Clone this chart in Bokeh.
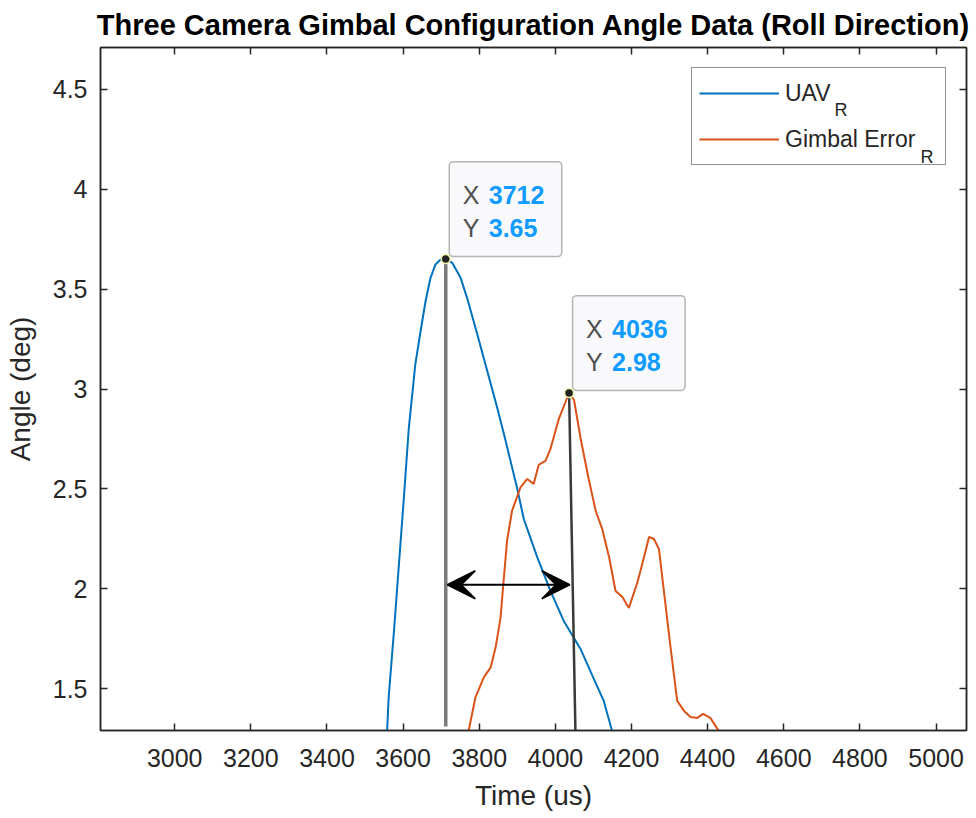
from bokeh.plotting import figure
from bokeh.models import (Range1d, LinearAxis, FixedTicker, Label, Arrow, VeeHead,
                          Legend, LegendItem, CustomJSTickFormatter)
from bokeh.embed import file_html
from bokeh.resources import INLINE

# ---------------- data ----------------
title_text = "Three Camera Gimbal Configuration Angle Data (Roll Direction)"
x_label = "Time (us)"
y_label = "Angle (deg)"
legend_labels = ["UAV", "Gimbal Error"]
legend_subscripts = ["R", "R"]

x_ticks = [3000, 3200, 3400, 3600, 3800, 4000, 4200, 4400, 4600, 4800, 5000]
x_tick_labels = ["3000", "3200", "3400", "3600", "3800", "4000", "4200", "4400", "4600", "4800", "5000"]
y_ticks = [1.5, 2, 2.5, 3, 3.5, 4, 4.5]
y_tick_labels = ["1.5", "2", "2.5", "3", "3.5", "4", "4.5"]
x_lim = (2805, 5080)
y_lim = (1.292, 4.708)

uav_t = [3558, 3562, 3576, 3589, 3602, 3615, 3624, 3632, 3646, 3659, 3672, 3685, 3697,
         3712, 3729, 3751, 3768, 3795, 3821, 3847, 3865, 3900, 3917, 3952, 3987, 4022,
         4066, 4101, 4127, 4149]
uav_a = [1.29, 1.458, 1.791, 2.124, 2.457, 2.806, 2.973, 3.123, 3.29, 3.44, 3.556, 3.623, 3.645,
         3.65, 3.631, 3.556, 3.456, 3.273, 3.09, 2.907, 2.774, 2.50, 2.35, 2.16, 1.99, 1.84,
         1.70, 1.55, 1.44, 1.29]

ger_t = [3772, 3790, 3812, 3830, 3843, 3856, 3864, 3873, 3886, 3908, 3926, 3943, 3956,
         3974, 3987, 4009, 4036, 4049, 4066, 4088, 4106, 4123, 4141, 4158, 4176, 4193,
         4215, 4233, 4246, 4259, 4272, 4285, 4303, 4320, 4338, 4355, 4373, 4388, 4407, 4429]
ger_a = [1.29, 1.458, 1.558, 1.608, 1.708, 1.858, 2.041, 2.241, 2.39, 2.507, 2.55, 2.525, 2.62,
         2.64, 2.70, 2.85, 2.98, 2.945, 2.755, 2.545, 2.39, 2.30, 2.16, 1.99, 1.96, 1.905,
         2.03, 2.16, 2.26, 2.25, 2.20, 1.99, 1.70, 1.44, 1.39, 1.36, 1.355, 1.375, 1.355, 1.29]

# data tips
tip_x = [3712, 4036]
tip_y = [3.65, 2.98]
tip_x_text = ["3712", "4036"]
tip_y_text = ["3.65", "2.98"]

# guide lines from the data tips down to the axis
guide_x0 = [3712, 4036]
guide_y0 = [3.65, 2.98]
guide_x1 = [3712, 4053]
guide_y1 = [1.312, 1.25]

# delay arrow
arrow_x = [3716, 4038]
arrow_y = 2.021

# ---------------- style ----------------
FONT = "Liberation Sans"
AX = "#262626"
BLUE = "#0072BD"
ORANGE = "#D95319"
W, H = 976, 818
ML, MR, MT, MB = 100, 10, 46, 88
FW, FH = W - ML - MR, H - MT - MB

p = figure(width=W, height=H, output_backend="svg", toolbar_location=None,
           x_range=Range1d(*x_lim), y_range=Range1d(*y_lim),
           min_border_left=ML, min_border_right=MR, min_border_top=MT, min_border_bottom=MB,
           title=title_text)
p.background_fill_color = "white"
p.border_fill_color = "white"
p.outline_line_color = AX
p.outline_line_width = 1.5
p.grid.visible = False

p.title.text_font = FONT
p.title.text_font_size = "29px"
p.title.text_font_style = "bold"
p.title.text_color = "#000000"
p.title.align = "center"
p.title.standoff = 13

fmt_code = """
const i = tk.findIndex(t => Math.abs(t - tick) < 1e-9);
return i >= 0 ? lb[i] : '';
"""
xfmt = CustomJSTickFormatter(args=dict(tk=x_ticks, lb=x_tick_labels), code=fmt_code)
yfmt = CustomJSTickFormatter(args=dict(tk=y_ticks, lb=y_tick_labels), code=fmt_code)
blank = CustomJSTickFormatter(code="return '';")


def style_axis(ax, show_labels=True):
    ax.axis_line_color = AX
    ax.axis_line_width = 1.5
    ax.major_tick_line_color = AX
    ax.major_tick_line_width = 1.5
    ax.major_tick_in = 7
    ax.major_tick_out = 0
    ax.minor_tick_line_color = None
    ax.major_label_text_font = FONT
    ax.major_label_text_color = AX
    ax.axis_label_text_font = FONT
    ax.axis_label_text_color = AX
    ax.axis_label_text_font_style = "normal"
    ax.axis_label_text_font_size = "28px"
    if show_labels:
        ax.major_label_text_font_size = "25px"
    else:
        ax.major_label_text_font_size = "1px"
        ax.major_label_standoff = 0


xa = p.xaxis[0]
xa.ticker = FixedTicker(ticks=x_ticks)
xa.formatter = xfmt
xa.axis_label = x_label
style_axis(xa)
xa.major_label_standoff = 18
xa.axis_label_standoff = 10

ya = p.yaxis[0]
ya.ticker = FixedTicker(ticks=y_ticks)
ya.formatter = yfmt
ya.axis_label = y_label
style_axis(ya)
ya.major_label_standoff = 13
ya.axis_label_standoff = 14

top = LinearAxis(ticker=FixedTicker(ticks=x_ticks), formatter=blank)
style_axis(top, show_labels=False)
p.add_layout(top, "above")
right = LinearAxis(ticker=FixedTicker(ticks=y_ticks), formatter=blank)
style_axis(right, show_labels=False)
p.add_layout(right, "right")

# ---------------- series ----------------
r_uav = p.line(uav_t, uav_a, line_color=BLUE, line_width=2)
r_ger = p.line(ger_t, ger_a, line_color=ORANGE, line_width=2)

# guide lines
p.segment(x0=guide_x0[:1], y0=guide_y0[:1], x1=guide_x1[:1], y1=guide_y1[:1],
          line_color="#7a7a7a", line_width=3.5)
p.segment(x0=guide_x0[1:], y0=guide_y0[1:], x1=guide_x1[1:], y1=guide_y1[1:],
          line_color="#3a3a3a", line_width=2.5)

# double arrow
p.add_layout(Arrow(x_start=arrow_x[0], y_start=arrow_y, x_end=arrow_x[1], y_end=arrow_y,
                   line_color="black", line_width=2,
                   start=VeeHead(size=28, fill_color="black", line_color="black", line_width=1.5),
                   end=VeeHead(size=28, fill_color="black", line_color="black", line_width=1.5)))

# data tip boxes (pixel sized, anchored at data tips)
sx = FW / (x_lim[1] - x_lim[0])
sy = FH / (y_lim[1] - y_lim[0])
box_l, box_r, box_b, box_t = 3.5, 116.0, 2.5, 97.5
p.quad(left=[x + box_l / sx for x in tip_x], right=[x + box_r / sx for x in tip_x],
       bottom=[y + box_b / sy for y in tip_y], top=[y + box_t / sy for y in tip_y],
       fill_color="#f9f9fc", line_color="#b4b4b4", line_width=1.5, border_radius=4)

p.scatter(tip_x, tip_y, size=9, fill_color="#222222", line_color="#f3f3a8", line_width=1.5)

for x, y, xt, yt in zip(tip_x, tip_y, tip_x_text, tip_y_text):
    for name, val, yoff in (("X", xt, 64), ("Y", yt, 31)):
        p.add_layout(Label(x=x, y=y, x_offset=17, y_offset=yoff, text=name,
                           text_font=FONT, text_font_size="25px", text_color="#505050",
                           text_baseline="middle", text_align="left"))
        p.add_layout(Label(x=x, y=y, x_offset=43, y_offset=yoff, text=val,
                           text_font=FONT, text_font_size="25px", text_color="#0f9bff",
                           text_font_style="bold",
                           text_baseline="middle", text_align="left"))

# ---------------- legend ----------------
legend = Legend(items=[LegendItem(label=legend_labels[0], renderers=[r_uav]),
                       LegendItem(label=legend_labels[1], renderers=[r_ger])],
                location="top_right", margin=20,
                glyph_width=80, glyph_height=36, label_height=36, label_width=153,
                label_standoff=6, padding=7, spacing=10,
                label_text_font=FONT, label_text_font_size="23px", label_text_color=AX,
                border_line_color=AX, border_line_width=1.5,
                background_fill_color="white", background_fill_alpha=0.0)
p.add_layout(legend)

# subscripts of the legend labels, placed just after each label text
sub_px = [834, 920]          # canvas pixel x of each subscript
sub_py = [109, 156]          # canvas pixel y of each subscript baseline
for cx, cy, s in zip(sub_px, sub_py, legend_subscripts):
    p.add_layout(Label(x=x_lim[0] + (cx - ML) / sx, y=y_lim[1] - (cy - MT) / sy, text=s,
                       text_font=FONT, text_font_size="18px", text_color=AX,
                       text_baseline="alphabetic", text_align="left", level="overlay"))

open("out.html", "w").write(file_html(p, INLINE))
